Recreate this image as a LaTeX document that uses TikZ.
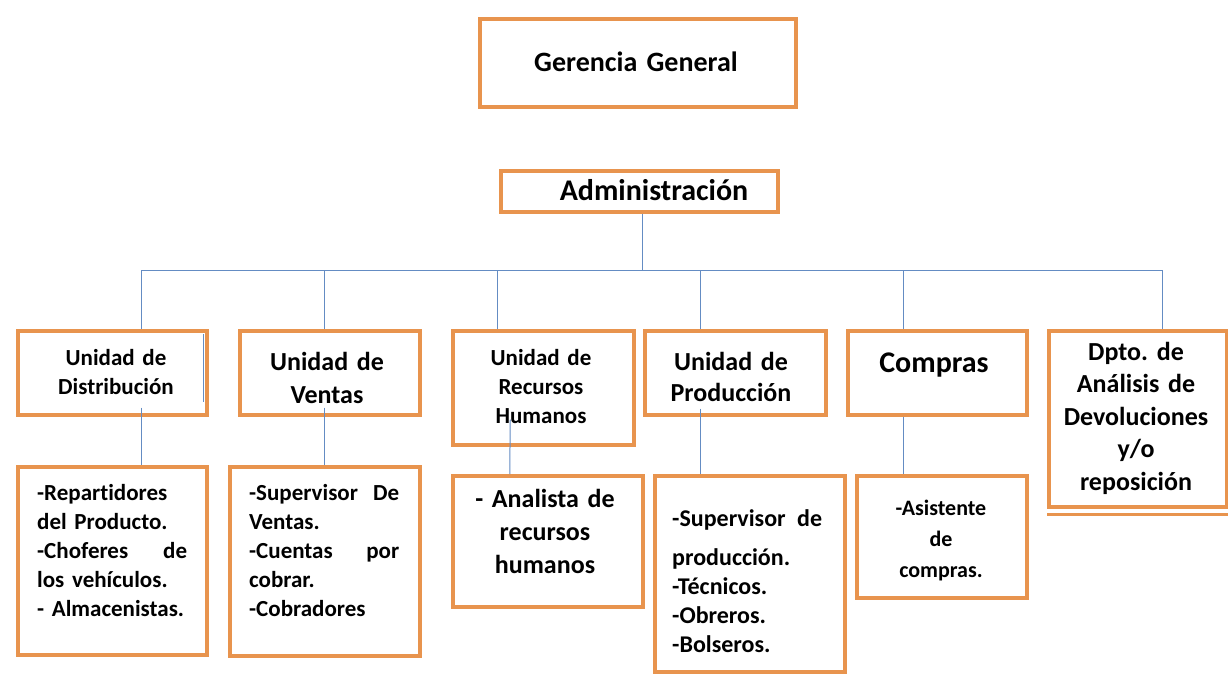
\documentclass[tikz,border=0pt]{standalone}
\usepackage{fontspec}
\setmainfont{Carlito}[Ligatures=NoCommon]
\frenchspacing
\definecolor{boxorange}{RGB}{232,148,78}
\definecolor{linkblue}{RGB}{100,140,195}
\tikzset{
  box/.style={draw=boxorange, line width=3.5pt, rectangle, inner sep=0pt, anchor=north west},
  link/.style={draw=linkblue, line width=1pt},
  txt/.style={inner sep=0pt, anchor=base, align=center, text width=200pt},
  lst/.style={inner sep=0pt, anchor=base west, align=left, text width=150pt}
}
\begin{document}
\begin{tikzpicture}[x=1pt, y=-1pt]
\useasboundingbox (0,0) rectangle (1228,675);
% boxes
\node[box, minimum width=316pt, minimum height=88pt] (ger) at (478,17) {};
\node[box, minimum width=277pt, minimum height=41pt] (adm) at (499,169) {};
\node[box, minimum width=189pt, minimum height=84pt] (dis) at (16,329) {};
\node[box, minimum width=180pt, minimum height=84pt] (ven) at (238,329) {};
\node[box, minimum width=181pt, minimum height=114pt] (rrh) at (451,329) {};
\node[box, minimum width=181pt, minimum height=84pt] (pro) at (643,329) {};
\node[box, minimum width=179pt, minimum height=84pt] (com) at (846,329) {};
\node[box, minimum width=178pt, minimum height=176pt] (dpt) at (1047,329) {};
\node[box, minimum width=189pt, minimum height=188pt] (rep) at (16,465) {};
\node[box, minimum width=190pt, minimum height=189pt] (vls) at (228,465) {};
\node[box, minimum width=190pt, minimum height=131pt] (ana) at (451,474) {};
\node[box, minimum width=190pt, minimum height=196pt] (sup) at (653,474) {};
\node[box, minimum width=170pt, minimum height=122pt] (asi) at (855,474) {};
\draw[draw=boxorange, line width=3.5pt] ([yshift=-6pt]dpt.south west) -- ([yshift=-6pt]dpt.south east);

% texts
\node[txt, text width=300pt, font=\bfseries\fontsize{28}{34}\selectfont] (gerT) at (636,71) {Gerencia General};
\node[txt, font=\bfseries\fontsize{30}{36}\selectfont] (admT) at (654,200) {Administración};
\node[txt, font=\bfseries\fontsize{23}{29}\selectfont] (disT) at (116,365) {Unidad de\\Distribución};
\node[txt, font=\bfseries\fontsize{26}{33}\selectfont] (venT) at (327,370) {Unidad de\\Ventas};
\node[txt, font=\bfseries\fontsize{23}{29}\selectfont] (rrhT) at (541,365) {Unidad de\\Recursos\\Humanos};
\node[txt, font=\bfseries\fontsize{26}{31}\selectfont] (proT) at (731,370) {Unidad de\\Producción};
\node[txt, font=\bfseries\fontsize{30}{36}\selectfont] (comT) at (934,372) {Compras};
\node[txt, font=\bfseries\fontsize{26}{32.5}\selectfont] (dptT) at (1136,360) {Dpto. de\\Análisis de\\Devoluciones\\y/o\\reposición};
\node[lst, font=\bfseries\fontsize{23}{29}\selectfont] (repT) at (37,500) {-Repartidores\\del Producto.\\-Choferes\hfill de\\los vehículos.\\- Almacenistas.};
\node[lst, font=\bfseries\fontsize{23}{29}\selectfont] (vlsT) at (249,500) {-Supervisor\hfill De\\Ventas.\\-Cuentas\hfill por\\cobrar.\\-Cobradores};
\node[txt, font=\bfseries\fontsize{26}{33}\selectfont] (anaT) at (545,507) {- Analista de\\recursos\\humanos};
\node[lst, font=\bfseries\fontsize{24}{29}\selectfont] (supT) at (672,526) {-Supervisor\hfill de\\[10pt]producción.\\-Técnicos.\\-Obreros.\\-Bolseros.};
\node[txt, font=\bfseries\fontsize{22}{31}\selectfont] (asiT) at (941,515) {-Asistente\\de\\compras.};

% connectors
\draw[link] ([xshift=3pt]adm.south) -- ++(0,57) coordinate (hub);
\draw[link] (hub) -| ([xshift=29.5pt]dis.north);
\draw[link] (hub) -| ([xshift=-5pt]ven.north);
\draw[link] (hub) -| ([xshift=-45.5pt]rrh.north);
\draw[link] (hub) -| ([xshift=-34.5pt]pro.north);
\draw[link] (hub) -| ([xshift=-33.5pt]com.north);
\draw[link] (hub) -| ([xshift=25pt]dpt.north);
\draw[link] ([xshift=29.5pt, yshift=9pt]dis.south) -- ([xshift=29.5pt]rep.north);
\draw[link] ([xshift=-5pt, yshift=9pt]ven.south) -- ([xshift=0pt]vls.north);
\draw[link] ([xshift=-33pt, yshift=27pt]rrh.south) -- ([xshift=-38pt]ana.north);
\draw[link] ([xshift=-34.5pt, yshift=8pt]pro.south) -- ([xshift=-49pt]sup.north);
\draw[link] ([xshift=-33.5pt]com.south) -- ([xshift=-38pt]asi.north);
\draw[link] ([xshift=-5pt, yshift=-5pt]dis.north east) -- ++(0,68);
\end{tikzpicture}
\end{document}
